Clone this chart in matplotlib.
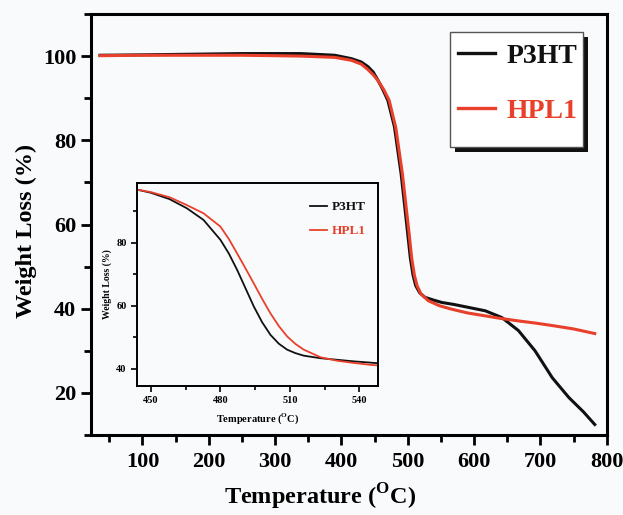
import matplotlib
matplotlib.use("Agg")
import matplotlib.pyplot as plt
from matplotlib.patches import Rectangle
from matplotlib.ticker import MultipleLocator

plt.rcParams['font.family'] = ['Liberation Serif', 'DejaVu Serif']
plt.rcParams['font.weight'] = 'bold'
plt.rcParams['mathtext.fontset'] = 'custom'
plt.rcParams['mathtext.rm'] = 'Liberation Serif:bold'
plt.rcParams['mathtext.bf'] = 'Liberation Serif:bold'

# TGA curves, full range
temp_p3ht = [36, 100, 150, 200, 250, 300, 339, 390, 415, 430, 440, 448, 455, 462,
             470, 480, 490, 495, 500, 504, 508, 512, 518, 526, 540, 551, 570, 592,
             617, 642, 667, 692, 718, 743, 765, 782]
wl_p3ht = [100.2, 100.3, 100.4, 100.5, 100.6, 100.6, 100.6, 100.2, 99.4, 98.6, 97.5,
           96.2, 94.3, 92.2, 89.5, 83.2, 72.1, 65.0, 57.8, 52.0, 48.0, 45.5, 43.8,
           42.7, 42.0, 41.5, 41.0, 40.3, 39.5, 37.9, 34.8, 30.0, 23.6, 18.9, 15.5,
           12.5]

temp_hpl1 = [36, 100, 150, 200, 250, 300, 340, 390, 415, 430, 440, 449, 456, 464,
             472, 482, 492, 497, 502, 506, 510, 514, 520, 531, 548, 566, 590, 617,
             640, 667, 692, 718, 750, 782]
wl_hpl1 = [100.1, 100.2, 100.2, 100.2, 100.2, 100.1, 100.0, 99.7, 99.0, 98.1, 96.8,
           95.4, 94.0, 92.0, 89.5, 83.0, 72.0, 65.0, 58.0, 52.0, 48.0, 45.5, 43.5,
           41.9, 40.7, 39.9, 39.0, 38.3, 37.7, 37.1, 36.6, 36.0, 35.2, 34.1]

# zoomed decomposition step
temp_zoom = [444, 450, 458, 465.5, 472.7, 480, 483.6, 487.2, 490.8, 494.4, 498,
             501.6, 505.2, 508.8, 512.4, 516, 523.2, 530.4, 537.6, 544.8, 548]
zoom_p3ht = [96.8, 95.8, 93.8, 90.9, 87.2, 80.9, 76.6, 71.4, 65.6, 59.8, 54.8,
             50.8, 48.0, 46.1, 45.0, 44.2, 43.4, 42.9, 42.4, 42.0, 41.8]
zoom_hpl1 = [96.8, 96.0, 94.4, 91.9, 89.3, 85.1, 81.2, 76.6, 71.9, 67.1, 62.2,
             57.6, 53.6, 50.3, 47.9, 46.1, 43.7, 42.6, 41.9, 41.3, 41.1]

black = '#111111'
red = '#e8402a'
bg = '#f9fafc'

fig = plt.figure(figsize=(6.23, 5.15), dpi=100, facecolor=bg)
ax = fig.add_axes([0.1456, 0.1553, 0.8282, 0.8175], facecolor=bg)

ax.plot(temp_p3ht, wl_p3ht, color=black, lw=2.2, label='P3HT')
ax.plot(temp_hpl1, wl_hpl1, color=red, lw=2.2, label='HPL1')

ax.set_xlim(22, 800)
ax.set_ylim(10, 110)
ax.xaxis.set_major_locator(MultipleLocator(100))
ax.xaxis.set_minor_locator(MultipleLocator(50))
ax.yaxis.set_major_locator(MultipleLocator(20))
ax.yaxis.set_minor_locator(MultipleLocator(10))
ax.tick_params(which='both', direction='out', width=2, top=False, right=False,
               labelsize=16)
ax.tick_params(which='major', length=7)
ax.tick_params(which='minor', length=5)
ax.tick_params(axis='x', pad=5)
for s in ax.spines.values():
    s.set_linewidth(2.2)

ax.set_xlabel(r'Temperature ($^{\rm O}$C)', fontsize=17.5, fontweight='bold')
ax.xaxis.set_label_coords(0.445, -0.112)
ax.set_ylabel('Weight Loss (%)', fontsize=17.5, fontweight='bold')
ax.yaxis.set_label_coords(-0.104, 0.485)

# legend box with a solid offset shadow
ax.add_patch(Rectangle((0.706, 0.672), 0.258, 0.273, transform=ax.transAxes,
                       facecolor=black, edgecolor='none', zorder=4.5))
ax.add_patch(Rectangle((0.696, 0.684), 0.258, 0.273, transform=ax.transAxes,
                       facecolor='white', edgecolor='#555555', lw=1.0, zorder=4.6))
leg = ax.legend(loc='upper left', bbox_to_anchor=(0.712, 0.930), borderaxespad=0,
                borderpad=0, frameon=False,
                prop={'family': 'Liberation Serif', 'weight': 'bold', 'size': 20},
                handlelength=1.32, handletextpad=0.43, labelspacing=1.05)
leg.set_zorder(5)
for h in leg.get_lines():
    h.set_linewidth(2.4)
for t, c in zip(leg.get_texts(), [black, red]):
    t.set_color(c)

# inset
axin = fig.add_axes([0.2199, 0.2505, 0.3868, 0.3942], facecolor=bg)
axin.plot(temp_zoom, zoom_p3ht, color=black, lw=1.3, label='P3HT')
axin.plot(temp_zoom, zoom_hpl1, color=red, lw=1.3, label='HPL1')
axin.set_xlim(444, 548)
axin.set_ylim(34.6, 98.9)
axin.xaxis.set_major_locator(MultipleLocator(30))
axin.xaxis.set_minor_locator(MultipleLocator(15))
axin.yaxis.set_major_locator(MultipleLocator(20))
axin.yaxis.set_minor_locator(MultipleLocator(10))
axin.tick_params(which='both', direction='out', width=1.2, top=False, right=False,
                 labelsize=7.5)
axin.tick_params(which='major', length=4)
axin.tick_params(which='minor', length=3)
for s in axin.spines.values():
    s.set_linewidth(1.4)
axin.set_xlabel(r'Temperature ($^{\rm O}$C)', fontsize=7.5, fontweight='bold', labelpad=4)
axin.set_ylabel('Weight Loss (%)', fontsize=7, fontweight='bold', labelpad=3)
lin = axin.legend(loc='upper right', bbox_to_anchor=(1.0, 0.97), frameon=False,
                  prop={'family': 'Liberation Serif', 'weight': 'bold', 'size': 9.5},
                  handlelength=1.3, handletextpad=0.4, labelspacing=0.9)
for t, c in zip(lin.get_texts(), [black, red]):
    t.set_color(c)

fig.savefig('out.png', dpi=100, facecolor=bg)
